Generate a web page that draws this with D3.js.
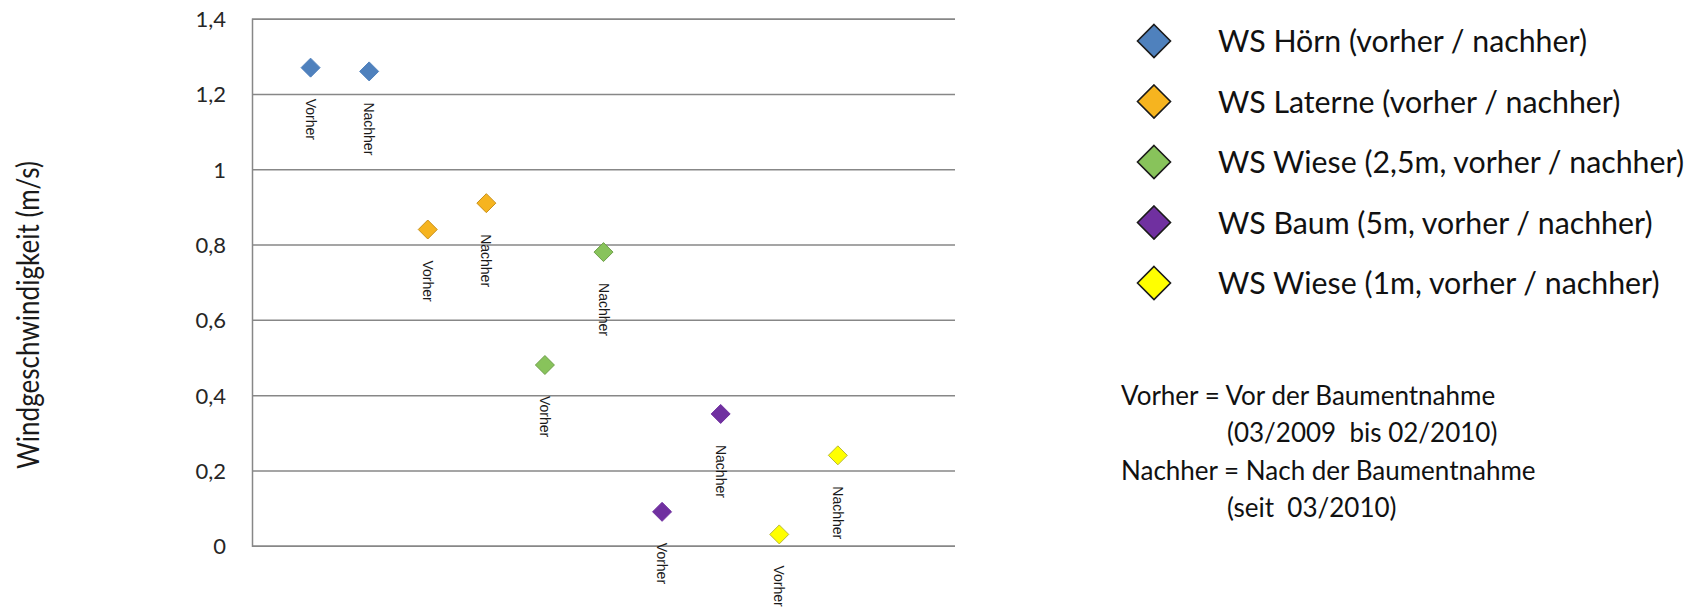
<!DOCTYPE html>
<html>
<head>
<meta charset="utf-8">
<script src="https://cdn.jsdelivr.net/npm/d3@7"></script>
<style>
  html, body { margin: 0; padding: 0; background: #fff; }
  svg { display: block; }
  text { white-space: pre; }
</style>
</head>
<body>
<svg id="chart" width="1706" height="616"></svg>
<script>
// Stations (one series each, measured before and after the tree removal)
const stations = [
  "WS Hörn (vorher / nachher)",
  "WS Laterne (vorher / nachher)",
  "WS Wiese (2,5m, vorher / nachher)",
  "WS Baum (5m, vorher / nachher)",
  "WS Wiese (1m, vorher / nachher)"
];
// Mean wind speed (m/s) before the tree removal
const vorher = [1.27, 0.84, 0.48, 0.09, 0.03];
// Mean wind speed (m/s) after the tree removal
const nachher = [1.26, 0.91, 0.78, 0.35, 0.24];
// Labels written next to each point
const phaseLabels = ["Vorher", "Nachher"];
// Value axis ticks
const yTicks = [0, 0.2, 0.4, 0.6, 0.8, 1.0, 1.2, 1.4];
// Explanatory notes beside the chart
const notes = [
  "Vorher = Vor der Baumentnahme",
  "(03/2009  bis 02/2010)",
  "Nachher = Nach der Baumentnahme",
  "(seit  03/2010)"
];

const fills   = ["#4f81bd", "#f6b41f", "#88c35b", "#7030a0", "#ffff00"];
const strokes = ["#4f81bd", "#c8901a", "#6fa04a", "#7030a0", "#b8b83a"];

const svg = d3.select("#chart");
const de = d3.formatLocale({decimal: ",", thousands: ".", grouping: [3], currency: ["", " €"]});
const fmt = v => de.format("~g")(+v.toFixed(1));
const sans = "Lato, 'Open Sans', sans-serif";

const plot = {left: 252, right: 955, top: 18.7, bottom: 545.7};

// The ten points sit on slots 1..10 of a 12-slot horizontal band
const points = [];
stations.forEach((s, i) => {
  [vorher[i], nachher[i]].forEach((v, j) => {
    points.push({station: i, phase: j, value: v, slot: i * 2 + j + 1});
  });
});

const x = d3.scaleLinear().domain([0, 12]).range([plot.left, plot.right]);
const y = d3.scaleLinear().domain([0, 1.4]).range([plot.bottom, plot.top]);

// Horizontal gridlines and value labels
const yAxis = d3.axisLeft(y).tickValues(yTicks).tickFormat(fmt)
  .tickSize(-(plot.right - plot.left)).tickPadding(26);
const gy = svg.append("g").attr("transform", `translate(${plot.left},0)`).call(yAxis);
gy.select(".domain").attr("stroke", "#878787").attr("stroke-width", 1.5);
gy.selectAll(".tick line").attr("stroke", "#878787").attr("stroke-width", 1.5);
gy.selectAll(".tick text")
  .attr("font-family", sans)
  .attr("font-size", 22)
  .attr("fill", "#262626")
  .attr("dy", "0.36em");

// Value axis title
svg.append("text")
  .attr("transform", `translate(39,315) rotate(-90)`)
  .attr("text-anchor", "middle")
  .attr("font-family", sans)
  .attr("font-size", 30)
  .attr("textLength", 308)
  .attr("lengthAdjust", "spacingAndGlyphs")
  .attr("fill", "#1a1a1a")
  .text("Windgeschwindigkeit (m/s)");

// Diamond markers
const diamond = r => `M0,${-r}L${r},0L0,${r}L${-r},0Z`;
svg.append("g").selectAll("path").data(points).join("path")
  .attr("d", diamond(9.5))
  .attr("transform", d => `translate(${x(d.slot)},${y(d.value)})`)
  .attr("fill", d => fills[d.station])
  .attr("stroke", d => strokes[d.station])
  .attr("stroke-width", 1);

// Point labels, rotated to read downward
svg.append("g").selectAll("text").data(points).join("text")
  .attr("transform", d => `translate(${x(d.slot)},${y(d.value) + 31}) rotate(90)`)
  .attr("dy", "0.35em")
  .attr("font-family", "'Liberation Sans', Arial, sans-serif")
  .attr("font-size", 14)
  .attr("fill", "#1a1a1a")
  .text(d => phaseLabels[d.phase]);

// Legend
const legend = svg.append("g").attr("transform", "translate(1154,41)");
const rows = legend.selectAll("g").data(stations).join("g")
  .attr("transform", (d, i) => `translate(0,${i * 60.5})`);
rows.append("path")
  .attr("d", diamond(16.5))
  .attr("fill", (d, i) => fills[i])
  .attr("stroke", "#1a1a1a")
  .attr("stroke-width", 1.6);
rows.append("text")
  .attr("x", 64)
  .attr("y", 11)
  .attr("font-family", sans)
  .attr("font-size", 30.3)
  .attr("fill", "#111")
  .text(d => d);

// Notes
const noteX = [1121, 1227, 1121, 1227];
const noteY = [405, 442, 480, 517];
svg.append("g").selectAll("text").data(notes).join("text")
  .attr("x", (d, i) => noteX[i])
  .attr("y", (d, i) => noteY[i])
  .attr("font-family", sans)
  .attr("font-size", 26)
  .attr("fill", "#111")
  .text(d => d);
</script>
</body>
</html>
